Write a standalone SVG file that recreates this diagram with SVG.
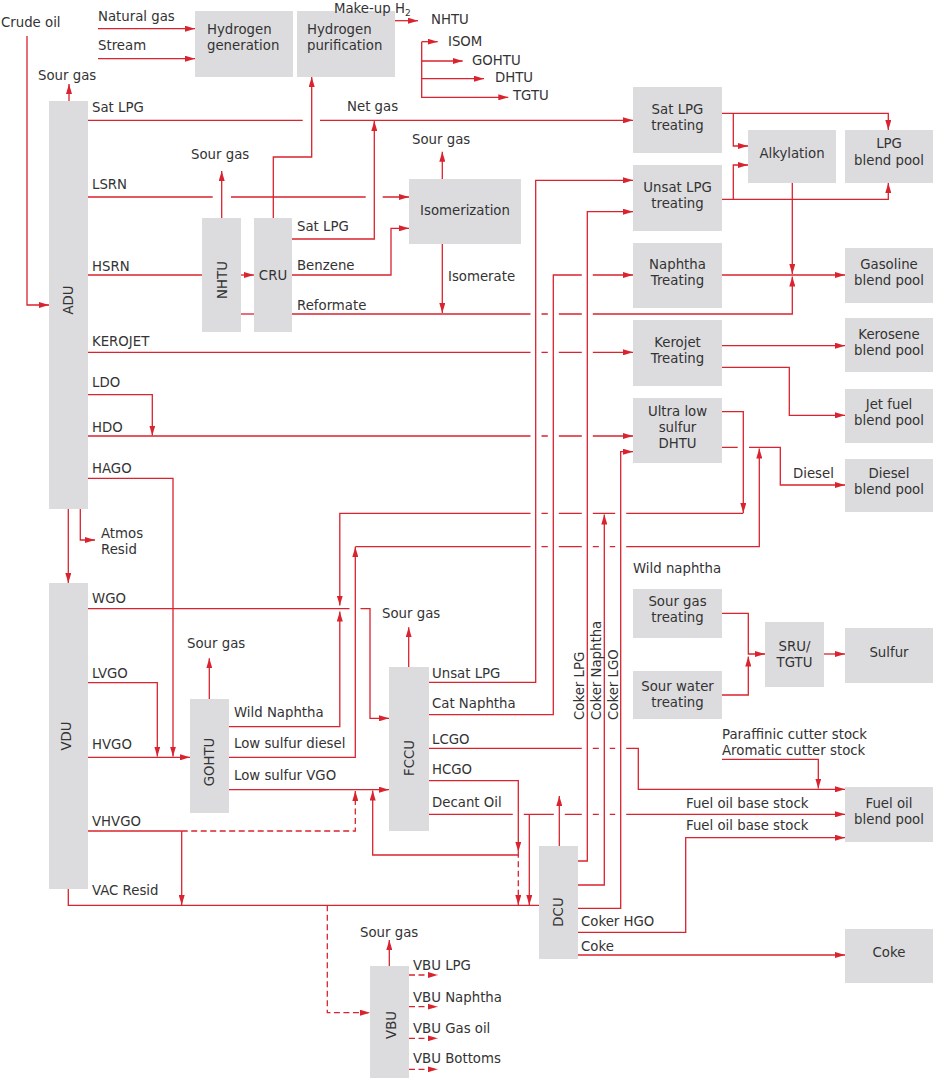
<svg xmlns="http://www.w3.org/2000/svg" width="939" height="1085" viewBox="0 0 939 1085">
<style>
text{font-family:"DejaVu Sans","Open Sans","Liberation Sans",sans-serif;font-size:13.3px;fill:#333}
.n{fill:#dcdcde}
.m{text-anchor:middle}
.r{text-anchor:middle;dominant-baseline:central}
.c{fill:none;stroke:#d9232e;stroke-width:1.3}
.d{stroke-dasharray:6 3.5}
.e{marker-end:url(#ah)}
</style>
<defs>
<marker id="ah" viewBox="0 0 10 6" refX="10" refY="3" markerWidth="10" markerHeight="6" markerUnits="userSpaceOnUse" orient="auto"><path d="M0,0 L10,3 L0,6 z" fill="#d9232e"/></marker>
</defs>
<rect width="939" height="1085" fill="#fff"/>

<g id="connectors">
<path class="c e" d="M27,36 V305 H49"/>
<path class="c e" d="M98,28.7 H195"/>
<path class="c e" d="M98,58.7 H195"/>
<path class="c e" d="M273.3,218 V157 H311.7 V77"/>
<path class="c e" d="M395,20.7 H418"/>
<path class="c e" d="M421.7,41.7 H437.7"/>
<path class="c e" d="M421.7,61 H462.7"/>
<path class="c e" d="M421.7,78.7 H484"/>
<path class="c e" d="M421.7,41.7 V97.3 H508.3"/>
<path class="c e" d="M69,101 V84"/>
<path class="c e" d="M88,120.3 H302.7 M320,120.3 H633"/>
<path class="c e" d="M292,239 H374.3 V121"/>
<path class="c e" d="M88,197 H212.7 M231,197 H365.7 M382.7,197 H409"/>
<path class="c e" d="M221.7,218 V171"/>
<path class="c" d="M88,275 H202"/>
<path class="c e" d="M241,275 H254"/>
<path class="c" d="M241,314 H254"/>
<path class="c e" d="M292,275 H391 V228.3 H409"/>
<path class="c e" d="M292,314 H530.5 M541.5,314 H547.8 M558.8,314 H581.8 M592.8,314 H792.3 V276.5"/>
<path class="c e" d="M442.3,244 V313"/>
<path class="c e" d="M442.3,179 V151.7"/>
<path class="c e" d="M88,352.3 H530.5 M541.5,352.3 H547.8 M558.8,352.3 H581.8 M592.8,352.3 H633"/>
<path class="c e" d="M88,394.7 H152.3 V435.5"/>
<path class="c e" d="M88,436 H530.5 M541.5,436 H547.8 M558.8,436 H581.8 M592.8,436 H633"/>
<path class="c e" d="M88,478.3 H173 V756.5"/>
<path class="c e" d="M68.3,509 V583"/>
<path class="c e" d="M80.3,509 V540 H95"/>
<path class="c e" d="M88,608.7 H349.5 M360.5,608.7 H370 V718.3 H389"/>
<path class="c e" d="M88,682.7 H157.3 V756.5"/>
<path class="c e" d="M88,757.3 H190"/>
<path class="c" d="M88,831 H181.7"/>
<path class="c e" d="M181.7,831 V905"/>
<path class="c d e" d="M181.7,831 H355.3 V791"/>
<path class="c" d="M68.3,889 V905.3 H539"/>
<path class="c d e" d="M327.3,905.3 V1012.7 H370"/>
<path class="c e" d="M209.3,699 V658.3"/>
<path class="c e" d="M229,726.7 H339.8 V611.5"/>
<path class="c e" d="M229,757.3 H355.3 V547"/>
<path class="c e" d="M355.3,546.7 H530.5 M541.5,546.7 H547.8 M558.8,546.7 H581.8 M592.8,546.7 H598.8 M609.8,546.7 H615.2 M626.2,546.7 H759.3 V448.5"/>
<path class="c e" d="M229,789.7 H389"/>
<path class="c e" d="M722,411.7 H743.3 V513"/>
<path class="c e" d="M743.3,513.3 H626.2 M615.2,513.3 H592.8 M581.8,513.3 H558.8 M547.8,513.3 H541.5 M530.5,513.3 H339.8 V605.5"/>
<path class="c e" d="M578,885 H604.3 V514.5"/>
<path class="c e" d="M578,861 H587.3 V211.7 H633"/>
<path class="c e" d="M578,908.3 H620.7 V451.7 H633"/>
<path class="c e" d="M429,682.3 H535.7 V180.3 H633"/>
<path class="c e" d="M429,714.7 H553.3 V275 H581.8 M592.8,275 H633"/>
<path class="c e" d="M722,113.3 H888.3 V130"/>
<path class="c e" d="M733.3,113.3 V146 H748"/>
<path class="c e" d="M722,199.3 H888.3 V183"/>
<path class="c e" d="M733.3,199.3 V165 H748"/>
<path class="c e" d="M792.3,183 V274"/>
<path class="c e" d="M722,275 H845"/>
<path class="c e" d="M722,345.7 H845"/>
<path class="c e" d="M722,367.3 H789.3 V415.3 H845"/>
<path class="c e" d="M722,447.3 H737.7 M749,447.3 H780.3 V485 H845"/>
<path class="c e" d="M408.7,667 V627.3"/>
<path class="c e" d="M429,748.3 H581.8 M592.8,748.3 H598.8 M609.8,748.3 H615.2 M626.2,748.3 H638.3 V789.3 H845"/>
<path class="c e" d="M722,759.3 H818.3 V788.5"/>
<path class="c e" d="M429,780.7 H518.3 V851.7"/>
<path class="c d e" d="M518.3,851.7 V905"/>
<path class="c e" d="M518.3,855 H372.7 V790.5"/>
<path class="c e" d="M429,814.3 H512.8 M523.8,814.3 H553.8 M564.8,814.3 H581.8 M592.8,814.3 H598.8 M609.8,814.3 H615.2 M626.2,814.3 H845"/>
<path class="c e" d="M529.3,814.3 V905"/>
<path class="c e" d="M559.3,846 V796"/>
<path class="c e" d="M578,932.3 H685.7 V837.7 H845"/>
<path class="c e" d="M578,955 H845"/>
<path class="c e" d="M722,613.3 H748.3 V654 H765"/>
<path class="c e" d="M722,695 H748.3 V656.5"/>
<path class="c e" d="M824,654 H845"/>
<path class="c e" d="M389.3,966 V940"/>
<path class="c d e" d="M409,975 H437.7"/>
<path class="c d e" d="M409,1006.7 H437.7"/>
<path class="c d e" d="M409,1038.3 H437.7"/>
<path class="c d e" d="M409,1069.3 H437.7"/>
</g>

<g id="node-h2gen"><rect class="n" x="195" y="11" width="98" height="66"/><text x="207" y="34">Hydrogen</text><text x="207" y="50">generation</text></g>
<g id="node-h2pur"><rect class="n" x="297" y="11" width="98" height="66"/><text x="307" y="34">Hydrogen</text><text x="307" y="50">purification</text></g>
<g id="node-adu"><rect class="n" x="49" y="101" width="39" height="408"/><text class="r" transform="translate(68,300) rotate(-90)">ADU</text></g>
<g id="node-nhtu"><rect class="n" x="202" y="218" width="39" height="114"/><text class="r" transform="translate(222.5,280) rotate(-90)">NHTU</text></g>
<g id="node-cru"><rect class="n" x="254" y="218" width="38" height="114"/><text class="m" x="273" y="280">CRU</text></g>
<g id="node-isom"><rect class="n" x="409" y="179" width="112" height="65"/><text class="m" x="465" y="215">Isomerization</text></g>
<g id="node-satlpg"><rect class="n" x="633" y="87" width="89" height="66"/><text class="m" x="677.5" y="113.5">Sat LPG</text><text class="m" x="677.5" y="129.5">treating</text></g>
<g id="node-alky"><rect class="n" x="748" y="130" width="88" height="53"/><text class="m" x="792" y="157.5">Alkylation</text></g>
<g id="node-lpgpool"><rect class="n" x="845" y="130" width="88" height="53"/><text class="m" x="889" y="148">LPG</text><text class="m" x="889" y="164.5">blend pool</text></g>
<g id="node-unsatlpg"><rect class="n" x="633" y="165" width="89" height="66"/><text class="m" x="677.5" y="192">Unsat LPG</text><text class="m" x="677.5" y="208">treating</text></g>
<g id="node-naphtreat"><rect class="n" x="633" y="243" width="89" height="65"/><text class="m" x="677.5" y="269">Naphtha</text><text class="m" x="677.5" y="285">Treating</text></g>
<g id="node-gasoline"><rect class="n" x="845" y="248" width="88" height="55"/><text class="m" x="889" y="269">Gasoline</text><text class="m" x="889" y="285">blend pool</text></g>
<g id="node-kerojet"><rect class="n" x="633" y="320" width="89" height="66"/><text class="m" x="677.5" y="346.5">Kerojet</text><text class="m" x="677.5" y="362.5">Treating</text></g>
<g id="node-kerosene"><rect class="n" x="845" y="318" width="88" height="54"/><text class="m" x="889" y="339">Kerosene</text><text class="m" x="889" y="355">blend pool</text></g>
<g id="node-dhtu"><rect class="n" x="633" y="398" width="89" height="65"/><text class="m" x="677.5" y="416">Ultra low</text><text class="m" x="677.5" y="432">sulfur</text><text class="m" x="677.5" y="448">DHTU</text></g>
<g id="node-jetfuel"><rect class="n" x="845" y="389" width="88" height="54"/><text class="m" x="889" y="408.7">Jet fuel</text><text class="m" x="889" y="424.7">blend pool</text></g>
<g id="node-diesel"><rect class="n" x="845" y="459" width="88" height="53"/><text class="m" x="889" y="478.3">Diesel</text><text class="m" x="889" y="494.3">blend pool</text></g>
<g id="node-vdu"><rect class="n" x="49" y="583" width="39" height="306"/><text class="r" transform="translate(66,736) rotate(-90)">VDU</text></g>
<g id="node-gohtu"><rect class="n" x="190" y="699" width="39" height="114"/><text class="r" transform="translate(209.5,762) rotate(-90)">GOHTU</text></g>
<g id="node-fccu"><rect class="n" x="389" y="667" width="40" height="164"/><text class="r" transform="translate(409.5,758) rotate(-90)">FCCU</text></g>
<g id="node-sourgas"><rect class="n" x="633" y="589" width="89" height="49"/><text class="m" x="677.5" y="606">Sour gas</text><text class="m" x="677.5" y="622">treating</text></g>
<g id="node-sourwater"><rect class="n" x="633" y="671" width="89" height="48"/><text class="m" x="677.5" y="690.7">Sour water</text><text class="m" x="677.5" y="706.7">treating</text></g>
<g id="node-sru"><rect class="n" x="765" y="622" width="59" height="65"/><text class="m" x="794.5" y="651">SRU/</text><text class="m" x="794.5" y="667">TGTU</text></g>
<g id="node-sulfur"><rect class="n" x="845" y="628" width="88" height="55"/><text class="m" x="889" y="657.3">Sulfur</text></g>
<g id="node-fueloil"><rect class="n" x="845" y="787" width="88" height="55"/><text class="m" x="889" y="808">Fuel oil</text><text class="m" x="889" y="824">blend pool</text></g>
<g id="node-dcu"><rect class="n" x="539" y="846" width="39" height="113"/><text class="r" transform="translate(558,912) rotate(-90)">DCU</text></g>
<g id="node-coke"><rect class="n" x="845" y="929" width="88" height="54"/><text class="m" x="889" y="957.3">Coke</text></g>
<g id="node-vbu"><rect class="n" x="370" y="966" width="39" height="112"/><text class="r" transform="translate(391,1025) rotate(-90)">VBU</text></g>

<g id="labels">
<text x="1" y="27">Crude oil</text>
<text x="98" y="21">Natural gas</text>
<text x="98" y="50">Stream</text>
<text x="334" y="12.5">Make-up H<tspan font-size="9" dy="3">2</tspan></text>
<text x="431" y="24">NHTU</text>
<text x="448" y="46">ISOM</text>
<text x="472" y="65">GOHTU</text>
<text x="495" y="82">DHTU</text>
<text x="513" y="100">TGTU</text>
<text x="38" y="80">Sour gas</text>
<text x="92" y="111.5">Sat LPG</text>
<text x="347" y="111">Net gas</text>
<text x="191" y="159">Sour gas</text>
<text x="92" y="189">LSRN</text>
<text x="412" y="144">Sour gas</text>
<text x="297" y="231">Sat LPG</text>
<text x="92" y="270.5">HSRN</text>
<text x="297" y="270">Benzene</text>
<text x="448" y="280.5">Isomerate</text>
<text x="297" y="310">Reformate</text>
<text x="92" y="346">KEROJET</text>
<text x="92" y="387">LDO</text>
<text x="92" y="431.5">HDO</text>
<text x="92" y="472.5">HAGO</text>
<text x="101" y="538">Atmos</text>
<text x="101" y="554">Resid</text>
<text x="793" y="478">Diesel</text>
<text x="633" y="573">Wild naphtha</text>
<text x="92" y="603">WGO</text>
<text x="382" y="618">Sour gas</text>
<text x="187" y="648">Sour gas</text>
<text x="92" y="677.5">LVGO</text>
<text x="432" y="677.5">Unsat LPG</text>
<text x="432" y="708">Cat Naphtha</text>
<text x="234" y="717">Wild Naphtha</text>
<text x="432" y="744">LCGO</text>
<text x="722" y="738.5">Paraffinic cutter stock</text>
<text x="722" y="754.5">Aromatic cutter stock</text>
<text x="234" y="747.5">Low sulfur diesel</text>
<text x="92" y="749">HVGO</text>
<text x="432" y="774">HCGO</text>
<text x="234" y="780">Low sulfur VGO</text>
<text x="432" y="806.5">Decant Oil</text>
<text x="686" y="808">Fuel oil base stock</text>
<text x="686" y="830">Fuel oil base stock</text>
<text x="92" y="825.5">VHVGO</text>
<text x="92" y="895">VAC Resid</text>
<text x="581" y="926">Coker HGO</text>
<text x="581" y="951">Coke</text>
<text x="360" y="937">Sour gas</text>
<text x="413" y="970">VBU LPG</text>
<text x="413" y="1001.5">VBU Naphtha</text>
<text x="413" y="1033">VBU Gas oil</text>
<text x="413" y="1063">VBU Bottoms</text>
<text transform="translate(584,720) rotate(-90)">Coker LPG</text>
<text transform="translate(601,720) rotate(-90)">Coker Naphtha</text>
<text transform="translate(618,720) rotate(-90)">Coker LGO</text>
</g>
</svg>
